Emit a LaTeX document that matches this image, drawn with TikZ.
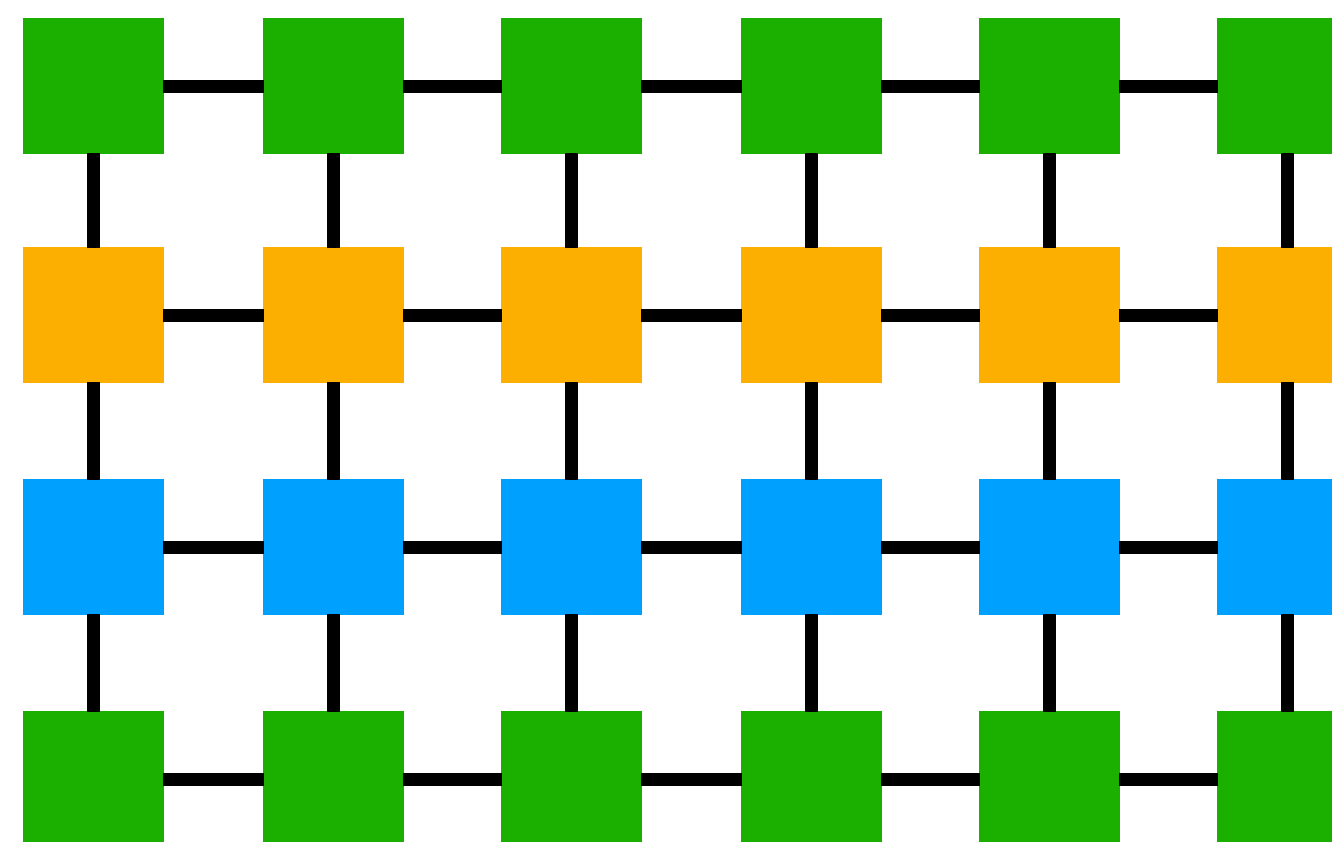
\documentclass[tikz,border=0pt]{standalone}
\usetikzlibrary{positioning}
\definecolor{green}{RGB}{27,176,0}
\definecolor{orange}{RGB}{252,175,0}
\definecolor{blue}{RGB}{0,160,255}

\begin{document}
\begin{tikzpicture}[x=0.01cm, y=-0.01cm,
    tile/.style={rectangle, inner sep=0pt, outer sep=0pt, minimum width=1.41cm, minimum height=1.36cm},
    link/.style={line width=0.13cm, shorten <=-0.2pt, shorten >=-0.2pt}]
    \useasboundingbox (0,0) rectangle (1332,841);
    \clip (0,0) rectangle (1332,841);

    % Tiles, one row per colour
    \foreach \r/\y/\c in {1/86/green, 2/315/orange, 3/547/blue, 4/779/green} {
        \foreach \k/\x in {1/93.5, 2/333.5, 3/571.5, 4/811.5, 5/1049.5, 6/1287.5} {
            \node[tile, fill=\c] (t-\r-\k) at (\x, \y) {};
        }
    }

    % Horizontal links
    \foreach \r in {1,...,4} {
        \foreach \k [count=\n from 2] in {1,...,5} {
            \draw[link] (t-\r-\k) -- (t-\r-\n);
        }
    }

    % Vertical links
    \foreach \r [count=\s from 2] in {1,...,3} {
        \foreach \k in {1,...,6} {
            \draw[link] (t-\r-\k) -- (t-\s-\k);
        }
    }
\end{tikzpicture}
\end{document}
